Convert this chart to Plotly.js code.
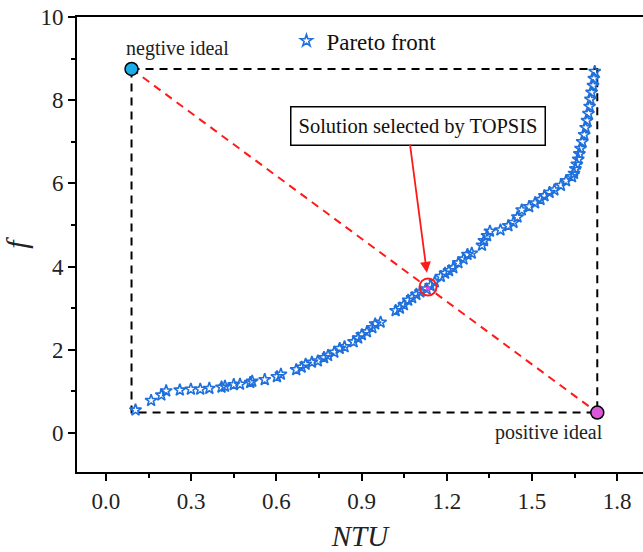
<!DOCTYPE html>
<html>
<head>
<meta charset="utf-8">
<script src="https://cdn.plot.ly/plotly-3.0.1.min.js"></script>
<style>html,body{margin:0;padding:0;background:#fff;}#chart{width:643px;height:552px;}</style>
</head>
<body>
<div id="chart"></div>
<script>
// Pareto front data (NTU, f)
const ntu = [0.104,0.159,0.195,0.212,0.260,0.299,0.332,0.364,0.407,0.419,0.450,0.472,0.508,0.515,0.559,0.602,0.616,0.670,0.689,0.703,0.725,0.746,0.768,0.782,0.804,0.823,0.840,0.872,0.888,0.901,0.919,0.938,0.948,0.967,1.020,1.035,1.049,1.064,1.078,1.093,1.107,1.129,1.143,1.158,1.179,1.194,1.208,1.223,1.241,1.259,1.273,1.288,1.324,1.331,1.342,1.352,1.389,1.417,1.435,1.449,1.464,1.490,1.511,1.530,1.544,1.562,1.579,1.602,1.620,1.641,1.648,1.653,1.658,1.663,1.667,1.671,1.677,1.684,1.689,1.694,1.699,1.703,1.706,1.710,1.715,1.718,1.721];
const fval = [0.55,0.78,0.91,1.01,1.03,1.05,1.05,1.07,1.10,1.12,1.16,1.17,1.21,1.24,1.28,1.35,1.41,1.52,1.58,1.65,1.70,1.73,1.81,1.86,1.94,2.03,2.07,2.19,2.28,2.36,2.43,2.53,2.62,2.66,2.94,3.00,3.08,3.19,3.25,3.33,3.39,3.46,3.54,3.63,3.76,3.84,3.90,3.97,4.09,4.18,4.29,4.32,4.51,4.62,4.74,4.85,4.88,4.98,5.06,5.19,5.36,5.44,5.53,5.61,5.70,5.78,5.84,5.95,6.06,6.16,6.24,6.35,6.46,6.58,6.71,6.84,7.00,7.17,7.34,7.51,7.68,7.85,8.02,8.19,8.35,8.52,8.69];
const negIdeal = [0.09, 8.75];
const posIdeal = [1.73, 0.49];
const selected = [1.134, 3.51];
const xTicks = [0.0,0.3,0.6,0.9,1.2,1.5,1.8];
const yTicks = [0,2,4,6,8,10];

const serif = '"Liberation Serif", "Times New Roman", serif';

const traces = [
  { // rectangle
    x: [negIdeal[0], posIdeal[0], posIdeal[0], negIdeal[0], negIdeal[0]],
    y: [negIdeal[1], negIdeal[1], posIdeal[1], posIdeal[1], negIdeal[1]],
    mode: 'lines', line: {color: '#000', width: 2, dash: '8px,6px'},
    showlegend: false, hoverinfo: 'skip'
  },
  { // diagonal
    x: [negIdeal[0], posIdeal[0]], y: [negIdeal[1], posIdeal[1]],
    mode: 'lines', line: {color: '#ff1a1a', width: 2, dash: '8px,6px'},
    showlegend: false, hoverinfo: 'skip'
  },
  {
    x: ntu, y: fval, mode: 'markers', name: 'Pareto front',
    marker: {symbol: 'star-open', size: 9, color: '#1f6fdc', line: {width: 1.6, color: '#1f6fdc'}}
  },
  {
    x: [selected[0]], y: [selected[1] - 0.04], mode: 'markers', showlegend: false,
    marker: {symbol: 'circle', size: 4, color: '#ff33ff'}
  },
  {
    x: [selected[0]], y: [selected[1]], mode: 'markers', showlegend: false,
    marker: {symbol: 'circle-open', size: 17, color: '#ff1a1a', line: {width: 2, color: '#ff1a1a'}}
  },
  {
    x: [negIdeal[0]], y: [negIdeal[1]], mode: 'markers', showlegend: false,
    marker: {symbol: 'circle', size: 13, color: '#1aaee8', line: {width: 1.5, color: '#000'}}
  },
  {
    x: [posIdeal[0]], y: [posIdeal[1]], mode: 'markers', showlegend: false,
    marker: {symbol: 'circle', size: 13, color: '#d957d9', line: {width: 1.5, color: '#000'}}
  }
];

const layout = {
  width: 643, height: 552,
  margin: {l: 77, r: 0, t: 17, b: 80},
  paper_bgcolor: '#fff', plot_bgcolor: '#fff',
  font: {family: serif, color: '#000', size: 20},
  showlegend: true,
  legend: {x: 0.37, y: 0.995, xanchor: 'left', yanchor: 'top', bgcolor: 'rgba(0,0,0,0)',
           font: {family: serif, size: 23, color: '#111'}, itemwidth: 30},
  xaxis: {
    range: [-0.102, 1.891], tickvals: xTicks, tickformat: '.1f',
    ticks: 'outside', ticklen: 7, tickwidth: 2, tickcolor: '#000',
    minor: {dtick: 0.15, tick0: 0, ticks: 'outside', ticklen: 4, tickwidth: 2, tickcolor: '#000'},
    showline: true, linecolor: '#000', linewidth: 2, mirror: true,
    showgrid: false, zeroline: false,
    tickfont: {family: serif, size: 23, color: '#222'},
    title: {text: 'NTU', font: {family: serif, size: 29, color: '#222', style: 'italic'}, standoff: 20}
  },
  yaxis: {
    range: [-0.94, 10.0], tickvals: yTicks,
    ticks: 'outside', ticklen: 7, tickwidth: 2, tickcolor: '#000',
    minor: {dtick: 1, tick0: 0, ticks: 'outside', ticklen: 4, tickwidth: 2, tickcolor: '#000'},
    showline: true, linecolor: '#000', linewidth: 2,
    showgrid: false, zeroline: false,
    tickfont: {family: serif, size: 23, color: '#222'},
    title: {text: 'f', font: {family: serif, size: 30, color: '#222', style: 'italic'}, standoff: 20}
  },
  annotations: [
    {x: negIdeal[0], y: negIdeal[1], xref: 'x', yref: 'y', text: 'negtive ideal', showarrow: false,
     xanchor: 'left', yanchor: 'bottom', xshift: -8, yshift: 7, font: {family: serif, size: 20, color: '#222'}},
    {x: posIdeal[0], y: posIdeal[1], xref: 'x', yref: 'y', text: 'positive ideal', showarrow: false,
     xanchor: 'right', yanchor: 'top', xshift: 8, yshift: -6, font: {family: serif, size: 20, color: '#222'}},
    {x: 1.100, y: 7.39, xref: 'x', yref: 'y', text: 'Solution selected by TOPSIS', showarrow: false,
     bordercolor: '#000', borderwidth: 1.5, borderpad: 7, bgcolor: '#fff',
     font: {family: serif, size: 20.5, color: '#111'}},
    {x: 1.130, y: 3.85, xref: 'x', yref: 'y', ax: 1.070, ay: 6.97, axref: 'x', ayref: 'y',
     text: '', showarrow: true, arrowcolor: '#ff1a1a', arrowwidth: 1.8, arrowhead: 2, arrowsize: 1.2}
  ]
};

Plotly.newPlot('chart', traces, layout, {displayModeBar: false, staticPlot: true});
</script>
</body>
</html>
